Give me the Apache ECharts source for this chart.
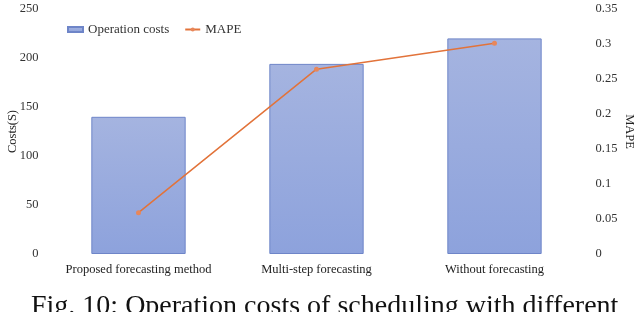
<!DOCTYPE html>
<html><head><meta charset="utf-8">
<script src="https://cdn.jsdelivr.net/npm/echarts@6/dist/echarts.min.js"></script>
<style>html,body{margin:0;padding:0;background:#fff}#c{width:640px;height:312px}</style>
</head><body><div id="c"></div>
<script>
var categories = ['Proposed forecasting method', 'Multi-step forecasting', 'Without forecasting'];
var costs = [140, 194, 220];
var mape = [0.059, 0.264, 0.301];
var leftTicks = [0, 50, 100, 150, 200, 250];
var rightTicks = [0, 0.05, 0.1, 0.15, 0.2, 0.25, 0.3, 0.35];
var caption = 'Fig. 10: Operation costs of scheduling with different';

var font = 'Liberation Serif';
var chart = echarts.init(document.getElementById('c'));
chart.setOption({
  animation: false,
  textStyle: {fontFamily: font},
  grid: {left: 49.5, right: 56.5, top: 9, bottom: 58, containLabel: false, outerBoundsMode: 'none'},
  legend: {
    left: 62, top: 18, itemGap: 15, itemWidth: 15, itemHeight: 5,
    textStyle: {fontFamily: font, fontSize: 13, color: '#333'},
    data: [{name: 'Operation costs', icon: 'rect'}, {name: 'MAPE'}]
  },
  xAxis: {
    type: 'category', data: categories,
    axisLine: {show: false}, axisTick: {show: false},
    axisLabel: {fontFamily: font, fontSize: 12.5, color: '#222', margin: 9, interval: 0}
  },
  yAxis: [{
    type: 'value', min: leftTicks[0], max: leftTicks[leftTicks.length - 1], interval: 50,
    name: 'Costs(S)', nameLocation: 'middle', nameGap: 30, nameRotate: 90, nameMoveOverlap: false,
    nameTextStyle: {fontFamily: font, fontSize: 12.5, color: '#222'},
    axisLine: {show: false}, axisTick: {show: false}, splitLine: {show: false},
    axisLabel: {fontFamily: font, fontSize: 12.5, color: '#333', margin: 11}
  }, {
    type: 'value', min: rightTicks[0], max: rightTicks[rightTicks.length - 1], interval: 0.05,
    name: 'MAPE', nameLocation: 'middle', nameGap: 39, nameRotate: -90, nameMoveOverlap: false,
    nameTextStyle: {fontFamily: font, fontSize: 12.5, color: '#222'},
    axisLine: {show: false}, axisTick: {show: false}, splitLine: {show: false},
    axisLabel: {fontFamily: font, fontSize: 12.5, color: '#333', margin: 12,
      formatter: function (v) { return String(+v.toFixed(2)); }}
  }],
  series: [{
    name: 'Operation costs', type: 'bar', data: costs, barWidth: '53%',
    itemStyle: {
      color: new echarts.graphic.LinearGradient(0, 0, 0, 1, [
        {offset: 0, color: '#a5b4e0'}, {offset: 1, color: '#8da2dc'}]),
      borderColor: '#6e85c8', borderWidth: 1
    }
  }, {
    name: 'MAPE', type: 'line', yAxisIndex: 1, data: mape,
    symbol: 'circle', symbolSize: 5,
    lineStyle: {color: '#e2733a', width: 1.5},
    itemStyle: {color: '#e8875a'}
  }],
  graphic: [{
    type: 'text', left: 31, top: 293,
    style: {text: caption, font: '28px "Liberation Serif"', fill: '#111'}
  }]
});
</script></body></html>
